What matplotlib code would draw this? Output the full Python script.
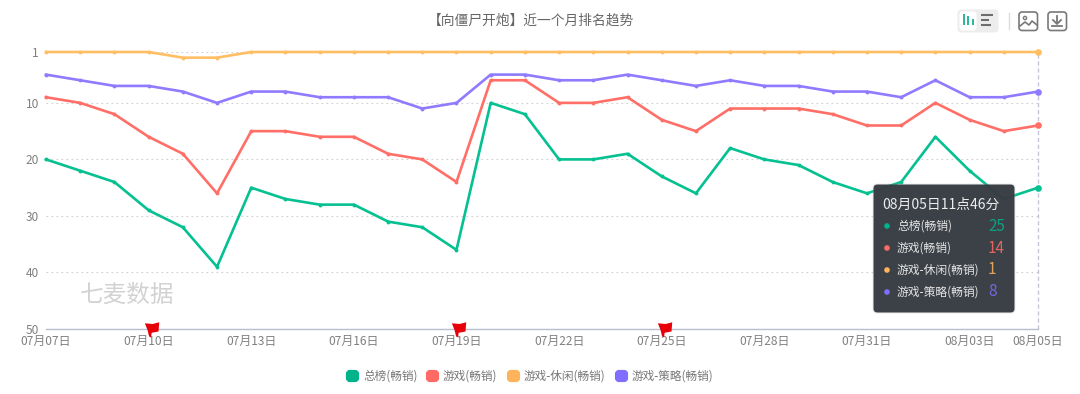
# plot.py - 向僵尸开炮 rank trend

import matplotlib
matplotlib.use('Agg')
import matplotlib.pyplot as plt
from matplotlib.patches import FancyBboxPatch, Circle, Rectangle
from matplotlib.path import Path

plt.rcParams['font.family'] = ['Noto Sans CJK SC', 'DejaVu Sans']

# === Data ===
dates = ['07月07日', '07月08日', '07月09日', '07月10日', '07月11日', '07月12日', '07月13日', '07月14日',
         '07月15日', '07月16日', '07月17日', '07月18日', '07月19日', '07月20日', '07月21日', '07月22日',
         '07月23日', '07月24日', '07月25日', '07月26日', '07月27日', '07月28日', '07月29日', '07月30日',
         '07月31日', '08月01日', '08月02日', '08月03日', '08月04日', '08月05日']
shown_dates = ['07月07日', '07月10日', '07月13日', '07月16日', '07月19日', '07月22日',
               '07月25日', '07月28日', '07月31日', '08月03日', '08月05日']
flag_dates = ['07月10日', '07月19日', '07月25日']
rank_ticks = [1, 10, 20, 30, 40, 50]

total = [20, 22, 24, 29, 32, 39, 25, 27, 28, 28, 31, 32, 36, 10, 12,
         20, 20, 19, 23, 26, 18, 20, 21, 24, 26, 24, 16, 22, 27, 25]
games = [9, 10, 12, 16, 19, 26, 15, 15, 16, 16, 19, 20, 24, 6, 6,
         10, 10, 9, 13, 15, 11, 11, 11, 12, 14, 14, 10, 13, 15, 14]
casual = [1, 1, 1, 1, 2, 2, 1, 1, 1, 1, 1, 1, 1, 1, 1,
          1, 1, 1, 1, 1, 1, 1, 1, 1, 1, 1, 1, 1, 1, 1]
strategy = [5, 6, 7, 7, 8, 10, 8, 8, 9, 9, 9, 11, 10, 5, 5,
            6, 6, 5, 6, 7, 6, 7, 7, 8, 8, 9, 6, 9, 9, 8]

names = ['总榜(畅销)', '游戏(畅销)', '游戏-休闲(畅销)', '游戏-策略(畅销)']
series = [total, games, casual, strategy]
line_colors = ['#05C091', '#FF6F67', '#FFBE63', '#8F7BFF']
key_colors = ['#00B38A', '#FF6B64', '#FFB35C', '#7F6EFF']

W, H = 1080, 394
x = list(range(len(dates)))

fig = plt.figure(figsize=(W / 100, H / 100), dpi=100, facecolor='white')

# plot area, in pixels of the reference
left, right, top, bottom = 46, 1038, 52, 329
ax = fig.add_axes([left / W, 1 - bottom / H, (right - left) / W, (bottom - top) / H])
ax.set_xlim(0, len(dates) - 1)
ax.set_ylim(50, 1)

for s in ['top', 'left', 'right']:
    ax.spines[s].set_visible(False)
ax.spines['bottom'].set_color('#B8BFD0')
ax.spines['bottom'].set_linewidth(1.0)

ax.set_yticks(rank_ticks)
ax.set_xticks([dates.index(d) for d in shown_dates])
ax.set_xticklabels(shown_dates)
ax.tick_params(axis='both', length=0, labelsize=8.6, labelcolor='#808080')
ax.tick_params(axis='x', pad=4.5)
ax.tick_params(axis='y', pad=5)
ax.grid(axis='y', color='#CFCFCF', linewidth=0.8, linestyle=(0, (1.5, 3)))
ax.set_axisbelow(True)

# hover line on the last day
ax.axvline(x[-1], color='#C8C5D8', linewidth=1, linestyle=(0, (3, 2)), zorder=1, clip_on=False)

for vals, color in zip(series, line_colors):
    ax.plot(x, vals, color=color, linewidth=1.9, marker='o', markersize=2.8,
            markeredgewidth=0, clip_on=False, zorder=3, solid_joinstyle='round')
    ax.plot(x[-1], vals[-1], color=color, marker='o', markersize=4.8,
            markeredgewidth=0, clip_on=False, zorder=3)

# red event flags sitting on the axis
flag_path = Path([(-4.6, 6.2), (3.1, 5.5), (9.7, 7.2), (9.0, -2.0), (2.1, -3.3), (1.6, -7.7),
                  (-0.4, -7.0), (-1.9, -0.7), (-4.6, 6.2)], closed=True)
ax.plot([dates.index(d) for d in flag_dates], [50] * len(flag_dates), linestyle='none',
        marker=flag_path, markersize=14, color='#E80008', markeredgewidth=0, clip_on=False, zorder=4)

# everything else is placed in reference pixels on an overlay
ov = fig.add_axes([0, 0, 1, 1], zorder=5)
ov.set_xlim(0, W)
ov.set_ylim(H, 0)
ov.axis('off')

ov.text(531, 20.5, '【向僵尸开炮】近一个月排名趋势', ha='center', va='center', fontsize=9.9, color='#666666')
ov.text(127, 295, '七麦数据', ha='center', va='center', fontsize=17, color='#D2D2D2')

# legend
key_x = [346, 426, 507, 615]
for kx, name, color in zip(key_x, names, key_colors):
    ov.add_patch(FancyBboxPatch((kx + 2, 372), 9, 8, boxstyle='round,pad=0,rounding_size=2',
                                mutation_aspect=1, facecolor=color, edgecolor=color, linewidth=3))
    ov.text(kx + 17, 376, name, ha='left', va='center', fontsize=8.4, color='#777777')

# tooltip
ov.add_patch(FancyBboxPatch((875, 186), 138, 125, boxstyle='round,pad=2.5,rounding_size=4',
                            facecolor='#B0B0B0', edgecolor='none', alpha=0.25))
ov.add_patch(FancyBboxPatch((875, 186), 138, 125, boxstyle='round,pad=1.5,rounding_size=4',
                            facecolor='#363B43', edgecolor='none', alpha=0.97))
ov.text(882, 204.5, '08月05日11点46分', ha='left', va='center', fontsize=10, color='#EDEDED', fontweight='medium')
for i, (name, vals, color) in enumerate(zip(names, series, key_colors)):
    row_y = 226 + i * 22
    ov.add_patch(Circle((887, row_y), 2.8, facecolor=color, edgecolor='none'))
    ov.text(897, row_y + 0.5, name, ha='left', va='center', fontsize=8.5, color='#E6E6E6', fontweight='medium')
    ov.text(988, row_y, str(vals[-1]), ha='left', va='center', fontsize=11, color=color, alpha=0.85)

# toolbar icons
icon = '#787878'
ov.add_patch(FancyBboxPatch((959, 11), 38, 20, boxstyle='round,pad=1.5,rounding_size=4',
                            facecolor='#EDEDED', edgecolor='none'))
ov.add_patch(FancyBboxPatch((960, 12), 16, 18, boxstyle='round,pad=0.5,rounding_size=3',
                            facecolor='white', edgecolor='none'))
for bx, by, bh in [(962.5, 14, 11), (967, 15.5, 9.5), (971.5, 19, 6)]:
    ov.add_patch(Rectangle((bx, by), 2.4, bh, facecolor='#2FB89A', edgecolor='none'))
for ly, lw_ in [(15, 12), (20, 8), (25, 10)]:
    ov.plot([981, 981 + lw_], [ly, ly], color='#6E6E6E', linewidth=1.5, solid_capstyle='butt')
ov.plot([1008.5, 1008.5], [13, 29], color='#DDDDDD', linewidth=1)
for ix in [1019, 1048]:
    ov.add_patch(FancyBboxPatch((ix + 0.5, 12.5), 17.5, 17.5, boxstyle='round,pad=0.5,rounding_size=3',
                                facecolor='none', edgecolor=icon, linewidth=1.2))
# picture icon details
ov.add_patch(Circle((1025, 18), 1.6, facecolor='none', edgecolor=icon, linewidth=1))
ov.plot([1020, 1025, 1029, 1032, 1037], [26, 22, 25, 21, 25], color=icon, linewidth=1.2)
# download icon details
ov.plot([1057, 1057], [16, 23], color=icon, linewidth=1.3)
ov.plot([1053, 1057, 1061], [20, 24, 20], color=icon, linewidth=1.3)
ov.plot([1052, 1062], [26, 26], color=icon, linewidth=1.3)

plt.savefig('out.png', dpi=100, facecolor='white')
